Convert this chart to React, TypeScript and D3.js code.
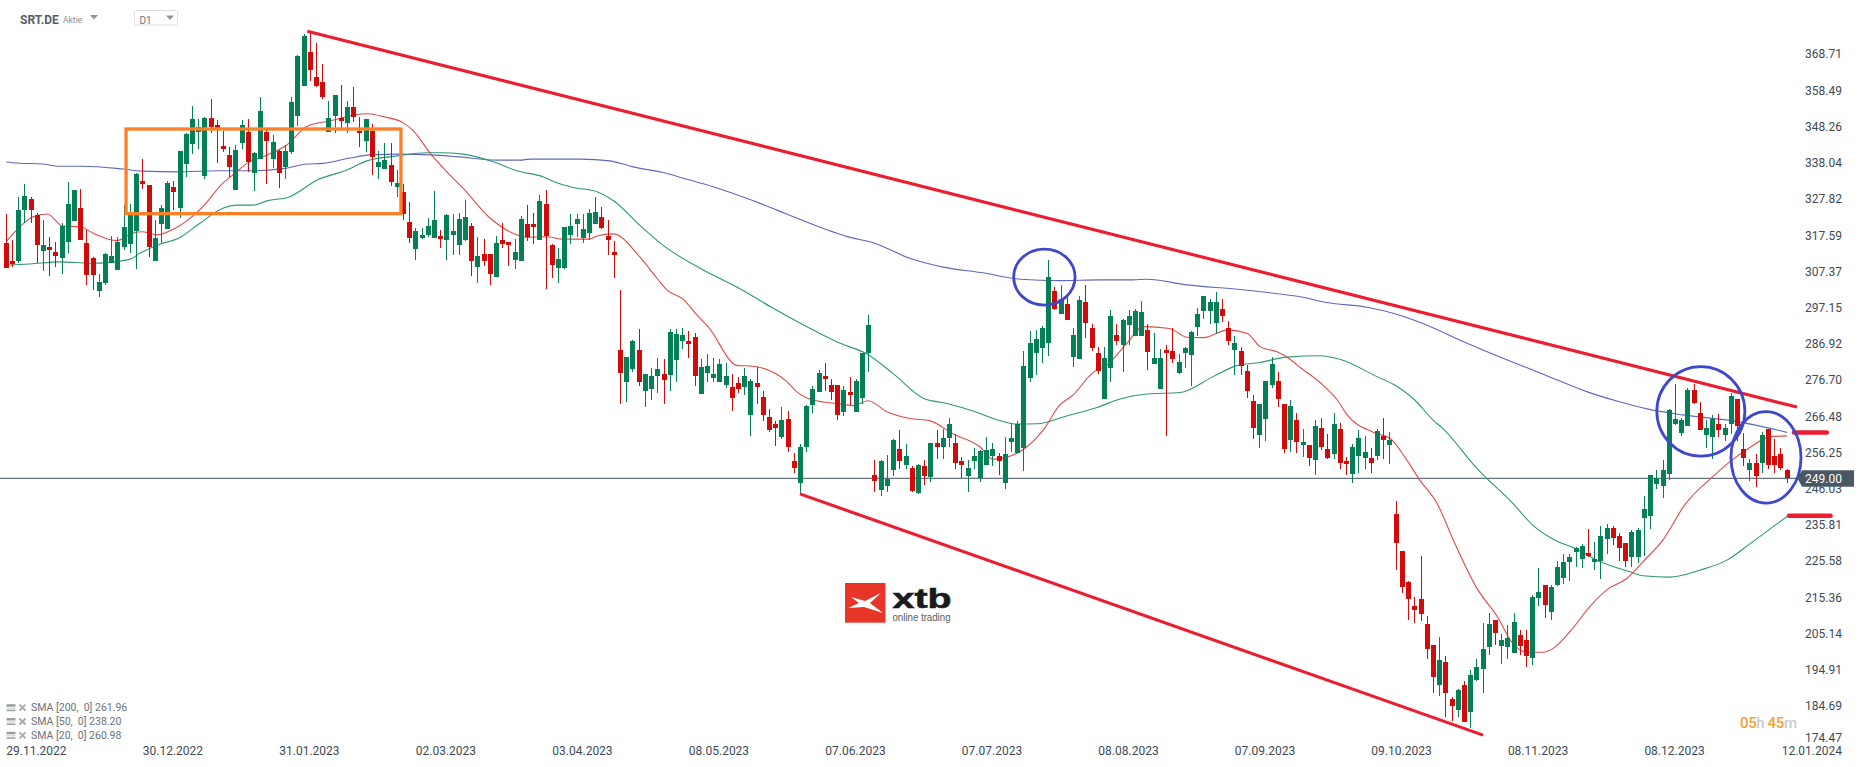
import React from "react";
import * as d3 from "d3";

const opens = [
315.4,310.3,310.3,324.7,327.7,323.3,313.2,314.3,312.9,311.3,
315.7,321.6,325.3,315.4,311.2,301.9,304,309.8,307.8,314.3,
315.1,318.8,332.9,331.8,310.3,320.8,319.4,331.2,325.3,337.7,
343.4,346.8,334.3,350.7,348.7,342.8,340.3,330.4,343.6,346.7,
335.2,339.1,346.7,339.1,341.4,336.9,341.1,351.3,359.7,369.3,
362.3,360.9,346.7,351.3,350.7,349.3,353.8,347,344.2,347,
336.9,336.3,337.4,331.2,329.8,321.3,313.7,316.8,317.7,316.8,
317.4,316.3,317.7,314.8,316.2,320.2,308.6,312.3,312.3,305.8,
316.2,315.7,310.6,310.3,320.8,320.8,316.2,326.4,314.8,308.4,
308.4,317.7,320.8,316.8,318.2,320.8,322.7,317.4,312.9,285.2,
276.2,279.9,285.2,273.6,274.2,277.9,278.4,278.2,282.4,287.8,
287.8,288.9,272.8,278.7,277.3,276.2,275.3,274.8,275.9,274.8,
266.9,275.9,271.9,266.3,264.3,260.6,265.7,253.9,247.7,257.8,
269.7,273.4,277.9,275.3,275.3,267.7,273.4,267.7,271.7,284.4,
249.9,245.7,246.8,251.4,257.3,252.8,251.9,244.9,252.5,249.4,
259,257.8,260.4,259,253.9,249.7,253.9,249.1,252.8,255.3,
255.3,247.7,259.2,256.1,257.6,277.3,284.4,285.8,287.2,301.9,
295.4,298.2,283.2,282.7,298.7,291.4,284.4,271.4,280.1,289.5,
286.6,292.3,289.2,289.2,290.9,281.3,274.2,285.2,285,278.7,
284.4,283.8,291.7,296.2,296.2,292.8,296.8,291.4,285.2,285,
279.3,270.8,261.2,265.7,275.3,276.5,270,259.8,265.5,258.4,
258.4,254.2,263.2,257.3,255.9,262.9,253.9,250.2,255.3,254.7,
254.7,255.3,260.9,258.4,238.9,228.5,219.7,213,214.9,207.9,
202,190.7,197.2,186.7,183.6,190.7,183.1,192.1,195.2,201.4,
209,201.7,201.4,199.7,204.8,203.4,198.3,215.2,218.9,211.3,
218.9,220.9,225.4,228.2,226.2,227.9,225.4,225.7,231.9,235,
232.7,230.7,226.8,226.8,237.8,238.4,247.4,246.8,250.2,264.3,
261.8,263.8,273.9,267.4,261.2,260.7,264.3,261.2,264.3,271.4,
257.3,251.3,253.3,253.3,262.9,255.3,255.9,251.3];

const highs = [
323.6,316.3,328.5,332.1,328.3,323.8,321.9,317,315.8,321,
332.6,330.4,330.7,319.1,311.6,306.7,312.5,317.4,317,326.1,
326.4,335.1,339.1,331.8,321.9,326.1,332.9,332.9,341.4,346.4,
354.1,350.4,351.1,356.1,350.1,347.1,342.5,343.1,350.1,350.4,
341.2,356.6,347.3,345.9,341.7,343.1,356.5,368.5,374.4,375.1,
371.9,365.9,355.5,357.2,360,355.5,359.4,351,350.4,349,
341.4,343.6,343.6,336,332.1,327,319.7,319.7,322.5,330.1,
319.1,323.6,323.6,323.8,327.5,321,317.1,316.5,312.3,317.4,
321.1,315.7,316.5,323,326.1,323.9,329,330.4,315.1,314,
319.9,323.6,323.6,323.6,325,328.5,325.6,321.9,316,302.1,
283.2,288,291.1,278.4,280.1,282.9,282.7,291.1,291.1,291.4,
290.6,290,282.7,284.1,282.9,282.7,281.5,278.4,277.6,280.1,
277,280.4,273.6,268.6,265.2,269.1,268,256.1,258.7,269.7,
275,279.6,281.5,277,275.3,275,277.6,277,284.4,295.1,
254.2,254.2,255.6,260.1,262.6,258.7,252.5,253.1,254.2,259,
262.6,262.9,266,261.5,255,254.2,257.6,257,260.7,259,
256.1,260.7,264.6,265.2,284.9,290.6,290.9,292,310.6,303,
303.6,301,291.4,300.5,303.6,292.5,286.1,286.1,296.5,292.5,
294,296.5,296.8,299,292.5,290,285.5,286.6,291.4,284.1,
286.1,290.6,297,300.5,299.6,301.6,299.6,293.4,289.2,286.1,
281,272.5,270,276.5,283.3,279,270,271.1,267.4,262.9,
258.4,265.5,266,261.5,267.4,264.6,255,258.7,262.6,260.9,
257.6,262.9,266,262.1,242.6,228.5,220,215.5,227.1,210.1,
202,204.2,198.9,187.3,189.5,191.8,194.9,198,208.2,211,
209,205.1,207.6,211,206.2,206.2,216.1,223.7,218.9,218.9,
225.7,227.6,227.6,229.6,230.5,234.7,231,235.5,236.1,235.5,
233.6,230.7,234.4,235,244,249.9,251.3,254.2,268.6,275.6,
266,274.5,275.6,270.5,265.5,266.9,267.2,264.3,273.1,271.4,
261.8,254.4,255.9,262.1,262.9,260.1,257.6,251.6];

const lows = [
308.5,308.7,309.7,321.2,321.2,309.7,307.6,306.2,308.7,306.7,
312.6,321.6,316.3,303.6,302.2,300.3,303.6,309.8,307.8,313.4,
312.5,308.2,330.7,311.6,310.3,315.3,319.4,324.7,322.5,334,
340.5,342,333.5,346.5,338,341.1,334,330.4,342,335.5,
330.1,339.1,332.1,336.6,330.9,333.5,340.5,348.4,359.7,361.1,
359.4,356.1,346.7,346.5,347.8,346.5,349.6,342.5,341.1,334.6,
333.5,336.3,331.5,328.4,321.9,315.4,310.6,316.6,317.1,316.8,
314,310.6,312,312,316,306,304.1,308.9,303.6,305.8,
314,308.9,308.1,310.3,316,315.1,316.2,302.4,305.5,304.1,
308.1,315.1,317.1,315.4,316.2,320.8,319.4,312,305.5,270,
270.5,279,275.1,269.1,271.1,273,270,273.6,276.2,285.5,
283,275.1,272.8,276.2,276.2,276.2,274.5,268,273,272.5,
260.9,270,265.2,262.1,258.1,260.1,256.4,250.5,244.3,256.4,
267.4,273.4,273.6,271.1,265.4,266.6,269.7,267.7,270,279,
245.1,244,245.1,249.7,251.6,251.6,245.1,244.6,247.1,248,
254.5,254.5,257.8,251.6,249.1,245.1,251.6,248,252.8,252.5,
249.9,246,256.4,256.1,251.1,276.2,278.2,281.5,283.5,296.5,
295.4,293.7,280.4,282.7,288.6,284.9,278.5,271.4,276.2,286.6,
279,286.6,289.2,289.2,279.6,281.3,274.2,260.9,281.5,278.5,
280.1,275.1,289.2,294,292.5,289.7,293.1,286.6,278.2,278.2,
271.7,260.1,257.6,259.5,274.4,269.1,256.1,256.4,256.1,255,
252.5,249.9,257,254.5,254.5,251.6,249.9,247.7,250.5,251.6,
250.5,254.2,254.5,253,223.1,216.6,209,208.2,208.7,198,
188.4,187.6,181.6,180.5,181.6,180.2,178.5,191.8,188.4,199.1,
202,196.6,198,199.7,199.1,195.8,196.3,213,209.6,209,
218.6,219.2,220,224,223.7,226.8,223.1,220.6,227.6,230.2,
225.7,224,224,225.1,227.1,234.7,246,243.4,248.5,264,
260.9,263.8,270,262.6,257.6,254.4,260.7,259.5,261.5,259.5,
252.5,248.2,246.5,250.5,251.6,250.5,251.3,247.7];

const closes = [
308.5,309.5,324.7,328.7,324.7,314.9,314.9,313.4,311.8,320.2,
326.4,330.4,316.3,306.4,306.4,304.4,312.3,311.8,315.7,319.9,
323.3,334.9,332.1,314.3,316.8,325.3,332.4,329.8,341.4,346.2,
350.4,348.1,350.7,348.2,347.9,342,336.9,341.7,348.7,338.3,
340.8,352.7,344.2,343.9,335.2,341.4,355.2,368.2,373.8,364.2,
359.7,356.6,350.7,357.2,349.9,353.8,351,346.7,350.4,339.7,
338.3,338.8,332.6,332.4,323.6,316.8,318.8,317.7,320.2,321.9,
316.6,323.3,318.8,322.2,322.7,310.3,311.7,310.3,306.7,315.4,
315.1,314.8,312.9,322.2,317.1,319.9,327.3,317.4,309.2,310.9,
319.9,320.2,322.2,319.4,323.9,324.2,319.6,316.2,312,278.7,
283.2,287.8,276.2,278.4,277.9,279.9,276.7,290.3,289.7,289.4,
286.9,277.9,280.4,280.7,278.4,281.3,277.9,271.7,274.2,277.9,
276.5,274.8,266.9,262.6,263.2,265.5,257.8,251.9,257.8,269.4,
274.2,278.7,277,273.4,266.9,273.9,272.5,276.5,284.4,292.3,
248.2,253.9,248.8,259.8,253.9,255.3,245.4,252.8,249.7,259,
257.8,260.4,264.3,253.3,252.8,251.9,255.3,256.7,257,257.3,
253.9,255.9,260.4,264.3,280.7,287.2,288.3,291.4,305.8,296.8,
299.6,293.7,289.4,299.3,292.8,285.8,279.3,283,294.8,287.8,
293.7,294.8,296.2,296,284.7,283,283,284.4,282.7,281.8,
285.8,290.3,295.4,300.5,298.8,298.8,294.8,287.8,287.2,280.7,
273.7,263.2,270,276.5,281.3,271.4,257.3,269.4,259.3,259.3,
254.7,263.8,257.8,254.7,264.3,253.3,253,257.8,260.4,256.4,
253.3,262.4,259.8,259.8,230.7,218.3,214.9,211.8,210.7,200.8,
192.9,197.7,188.4,184.7,189.2,180.2,193.5,195.7,200.8,207.9,
205.3,203.4,203.9,208.4,201.7,198.9,215.5,216.9,213.2,218.3,
224,225.4,226.8,229.3,229.9,227.1,226.2,232.7,235,232.2,
229.3,225.7,233.8,234.4,240.3,249.9,249.1,251.3,268.3,265.6,
265.5,273.9,270.2,262.6,263.2,265.7,262.6,263.2,272.2,263.8,
254.7,253.3,249.6,261.2,252.8,252.8,251.9,249];

const sma200Bars = [0,1.7,5.9,8.2,12.4,18.8,22,27.5,34,39.3,44.6,48.5,51,55.4,58.6,63.5,68.3,72.6,79.1,82.8,84.4,92.5,97.3,101,105.8,109.7,113.9,120.3,124.2,127.9,136,139.7,145.6,151,157.4,163.4,169.8,176.3,181.6,183.8,190.3,198.8,205.3,209,212.8,219.3,223.5,228.3,234.3,241.2,247.7,254.8,260,264.4,270.2,278.3,287];
const sma200Values = [338.3,338,337.7,337.1,337.1,336.3,335.7,335.5,335.8,335.8,336.4,337.7,337.9,339.4,340.3,340.5,340.3,339.8,338.8,338.8,339.1,339.1,338.6,336.9,335.3,333.4,331.3,327.4,324.7,322.1,317,315.5,311.1,308.6,307,305.2,304.8,305,305,305.2,303.6,302.3,301,300.1,298.6,297.3,295.6,292.7,288,282.9,278.4,273.4,270.6,268.6,266.9,265.2,261.96];

const sma50Bars = [0,3.8,8.7,13.5,19.9,21.5,24.3,28,31.2,34.9,37.2,39.8,42,45.7,50.1,54.9,58.1,63,67.8,69.9,73.6,78.4,82.3,86.5,88.7,91.3,95.2,97.8,102.6,105.8,111.8,117.8,123.6,131.1,134.4,138.7,142.9,147.7,151.6,155.8,160.1,162.9,166.1,170.9,175.8,179.5,183.8,189.2,194.5,198.3,202,206.4,211.7,214.9,220.9,224.1,227,229.9,231.5,237,242.8,246,249.3,253.1,256.8,261.7,263.8,268.1,273,277.3,281,284.7,287];
const sma50Values = [309.2,309.5,310.1,309.7,310.8,312.5,314.8,317,321,325.2,326.1,326.1,327.3,328.5,333.2,336,338.6,340,340.9,340.9,340.5,338.4,335.8,334.1,332.4,331.1,329.9,327.4,319.6,314.8,308.3,302.9,297,289.9,287.1,284.1,278.6,271.7,270.1,268,265.3,264.3,264.4,266.6,269,271.4,272.8,273.2,277.7,280.8,281.7,283.2,283.6,282.6,277.7,275,271.1,265.5,263.1,251.8,241.9,235.8,231.8,229,225.5,222.6,221.5,221.1,223.1,225.9,230.5,235.3,238.2];

const sma20Bars = [0,1.7,4.3,6.6,9.1,11.9,14,17.8,20.4,22,24.3,26.9,31.7,34.9,36.5,38.8,42,45.2,48.5,52.2,55.9,58.3,60.7,63.9,65.5,68.3,71,73.6,78,82.3,83.9,87.1,89.7,94,95.2,97.8,102.1,104.9,106.5,109.1,111.3,113.1,117.9,119.9,125.8,127.4,130,134.4,136.5,138.9,141.9,145.6,148.9,152.6,156.9,159,162.9,167.1,169.8,171.9,175,177.4,180.6,183.2,187.5,190.3,192.9,196.9,200,202.1,204.8,206.9,208,212.2,214.5,216.1,220.3,223,225.7,227.8,230.6,233.2,237,240.3,242.8,245.1,247.7,249.3,252,255.2,258.1,261.2,263.8,267,270.5,275.3,277.8,281,284.2,287];
const sma20Values = [315.8,319.1,322.8,323.6,320.2,320,318.2,316.1,318.2,318.6,317.7,319.3,325.7,332.3,334.6,337.9,340.2,343.1,348.4,349.9,351.5,351.9,351.1,349.4,347.3,340.8,335.5,330.9,322.4,317.7,317,317.2,316.5,316.5,317.4,318,311.5,305.4,302.1,299.5,295.1,291.8,280.8,280.7,276.3,273.4,271.1,270,269.5,270.9,267.8,265.9,265.2,261.5,257.9,254.4,256.1,262.6,269.7,272.5,278.6,281,287.1,291.8,291.3,288.8,288.7,290.9,289.9,286.1,284.7,282.6,281,275.3,271.1,266.9,262,260.3,254.2,248.5,241.9,231.6,218,209.9,202.4,199.9,199.9,201,205.7,212.8,217.7,220.8,225.5,231.6,241.5,249.9,253.7,257.7,260.7,260.98];

const priceTicks = ["368.71","358.49","348.26","338.04","327.82","317.59","307.37","297.15","286.92","276.70","266.48","256.25","246.03","235.81","225.58","215.36","205.14","194.91","184.69","174.47"];
const dateTicks = ["29.11.2022","30.12.2022","31.01.2023","02.03.2023","03.04.2023","08.05.2023","07.06.2023","07.07.2023","08.08.2023","07.09.2023","09.10.2023","08.11.2023","08.12.2023"];
const lastDate = "12.01.2024";
const lastPrice = 249.0;
const legendRows = ["SMA [200,  0] 261.96","SMA [50,  0] 238.20","SMA [20,  0] 260.98"];

const trendLines = [
  { bars: [48.5, 288.6], prices: [375.2, 269.1] },
  { bars: [127.9, 238], prices: [244.6, 176.5] },
];
const levelLines = [
  { bars: [288.1, 293.4], price: 261.9 },
  { bars: [287.3, 294], price: 238.4 },
];
const zoneBars = [19.3, 63.6];
const zonePrices = [347.6, 323.7];
const circles = [
  { bar: 167.3, price: 305.8, rx: 30.7, ry: 28 },
  { bar: 273.1, price: 267.9, rx: 44, ry: 44.7 },
  { bar: 283.6, price: 254.9, rx: 35, ry: 45.7 },
];

const W = 1866;
const H = 767;
const FONT = "Roboto, sans-serif";
const GREEN = "#047f56";
const RED = "#d20a0a";
const TEXT = "#3f4a54";

const x = d3.scaleLinear().domain([0, 287]).range([6.3, 1787.1]);
const y = d3.scaleLinear().domain([lastPrice, 368.71]).range([478.3, 54.2]);

const smaPath = (bars: number[], values: number[]) =>
  d3.line<number>()
    .x((b) => x(b))
    .y((_, i) => y(values[i]))
    .curve(d3.curveMonotoneX)(bars) as string;

const Chevron = ({ cx, cy }: { cx: number; cy: number }) => (
  <path d={`M${cx - 4},${cy - 2} L${cx + 4},${cy - 2} L${cx},${cy + 2.5} Z`} fill="#8f9498" />
);

export default function App() {
  return (
    <svg
      width={W}
      height={H}
      viewBox={`0 0 ${W} ${H}`}
      style={{ position: "absolute", left: 0, top: 0, display: "block", background: "#fff", fontFamily: FONT }}
    >
      {/* header */}
      <text x={20} y={23.5} fontSize={12} fontWeight={700} fill="#56606a">SRT.DE</text>
      <text x={63} y={22.5} fontSize={8.5} fill="#8a9096">Aktie</text>
      <Chevron cx={94} cy={17} />
      <rect x={134.5} y={10.5} width={43} height={14.5} rx={2} fill="#fff" stroke="#dcdfe2" />
      <text x={139.5} y={24} fontSize={10} fill="#6f767c">D1</text>
      <Chevron cx={170} cy={17.5} />

      {/* last price line */}
      <line x1={0} x2={1798} y1={y(lastPrice)} y2={y(lastPrice)} stroke="#44525e" strokeWidth={1} />

      {/* moving averages */}
      <path d={smaPath(sma200Bars, sma200Values)} fill="none" stroke="#5f68bd" strokeWidth={1.1} />
      <path d={smaPath(sma50Bars, sma50Values)} fill="none" stroke="#2f9873" strokeWidth={1.1} />
      <path d={smaPath(sma20Bars, sma20Values)} fill="none" stroke="#e24a4a" strokeWidth={1.1} />

      {/* candles */}
      <g shapeRendering="crispEdges">
        {opens.map((o, i) => {
          const c = closes[i];
          const up = c >= o;
          const fill = up ? GREEN : RED;
          const wx = Math.round(x(i) - 0.5);
          const top = Math.round(y(Math.max(o, c)));
          const bot = Math.round(y(Math.min(o, c)));
          const hi = Math.round(y(highs[i]));
          const lo = Math.round(y(lows[i]));
          return (
            <g key={i}>
              <rect x={wx} y={hi} width={1} height={Math.max(lo - hi, 1)} fill={fill} />
              <rect x={wx - 2} y={top} width={5} height={Math.max(bot - top, 2)} fill={fill} />
            </g>
          );
        })}
      </g>

      {/* drawings */}
      <rect
        x={x(zoneBars[0])}
        y={y(zonePrices[0])}
        width={x(zoneBars[1]) - x(zoneBars[0])}
        height={y(zonePrices[1]) - y(zonePrices[0])}
        fill="none"
        stroke="#ff7f27"
        strokeWidth={3.3}
      />
      {trendLines.map((t, i) => (
        <line key={i} x1={x(t.bars[0])} y1={y(t.prices[0])} x2={x(t.bars[1])} y2={y(t.prices[1])} stroke="#ed1c2e" strokeWidth={3.1} />
      ))}
      {levelLines.map((l, i) => (
        <line key={i} x1={x(l.bars[0])} y1={y(l.price)} x2={x(l.bars[1])} y2={y(l.price)} stroke="#ed1c2e" strokeWidth={4.5} strokeLinecap="round" />
      ))}
      {circles.map((e, i) => (
        <ellipse key={i} cx={x(e.bar)} cy={y(e.price)} rx={e.rx} ry={e.ry} fill="none" stroke="#3f48cc" strokeWidth={2.8} />
      ))}

      {/* price axis */}
      {priceTicks.map((t) => (
        <text key={t} x={1842} y={Math.min(y(+t), 737.7)} dy="0.35em" textAnchor="end" fontSize={12} fill={TEXT}>{t}</text>
      ))}
      <path
        d={`M1797.5,${y(lastPrice)} L1802,470.3 L1854,470.3 L1854,486.7 L1802,486.7 Z`}
        fill="#4a5863"
      />
      <text x={1842} y={y(lastPrice)} dy="0.35em" textAnchor="end" fontSize={12} fill="#fff">{lastPrice.toFixed(2)}</text>

      {/* date axis */}
      {dateTicks.map((t, i) => (
        <text key={t} x={x(i * 22)} y={750.7} dy="0.35em" fontSize={12} fill={TEXT}>{t}</text>
      ))}
      <text x={1842} y={750.7} dy="0.35em" textAnchor="end" fontSize={12} fill={TEXT}>{lastDate}</text>

      {/* legend */}
      {legendRows.map((t, i) => {
        const ly = 707.7 + i * 13.8;
        return (
          <g key={t}>
            <rect x={6.5} y={ly - 3.5} width={9} height={2.5} fill="#9a9ea2" />
            <rect x={6.5} y={ly} width={9} height={1} fill="#c4c7ca" />
            <rect x={6.5} y={ly + 2} width={9} height={1.5} fill="#9a9ea2" />
            <path d={`M19.5,${ly - 3} L25.5,${ly + 3} M25.5,${ly - 3} L19.5,${ly + 3}`} stroke="#a4a8ac" strokeWidth={1.8} />
            <text x={31} y={ly} dy="0.35em" fontSize={10.5} fill="#6b7278" style={{ whiteSpace: "pre" }}>{t}</text>
          </g>
        );
      })}

      {/* countdown */}
      <text x={1740} y={722.5} dy="0.35em" fontSize={15} fontWeight={500} textLength={57} style={{ whiteSpace: "pre" }}>
        <tspan fill="#f7a030">05</tspan>
        <tspan fill="#c9cccf">h </tspan>
        <tspan fill="#f7a030">45</tspan>
        <tspan fill="#c9cccf">m</tspan>
      </text>

      {/* logo */}
      <rect x={845} y={583} width={40.5} height={39.7} fill="#e8352a" />
      <path d="M851,597 L865,601 L881,593 L870,603 L883,613 L864,607 L848,608 L859,603 Z" fill="#fff" />
      <text x={892.5} y={607.7} fontFamily="'Liberation Sans', Arial, sans-serif" fontWeight={700} fontSize={28} fill="#1b1b1b" stroke="#1b1b1b" strokeWidth={0.6} textLength={59} lengthAdjust="spacingAndGlyphs">xtb</text>
      <text x={892.5} y={620.5} fontFamily="'Liberation Sans', Arial, sans-serif" fontSize={10.5} fill="#5a5a5a" textLength={58} lengthAdjust="spacingAndGlyphs">online trading</text>
    </svg>
  );
}
